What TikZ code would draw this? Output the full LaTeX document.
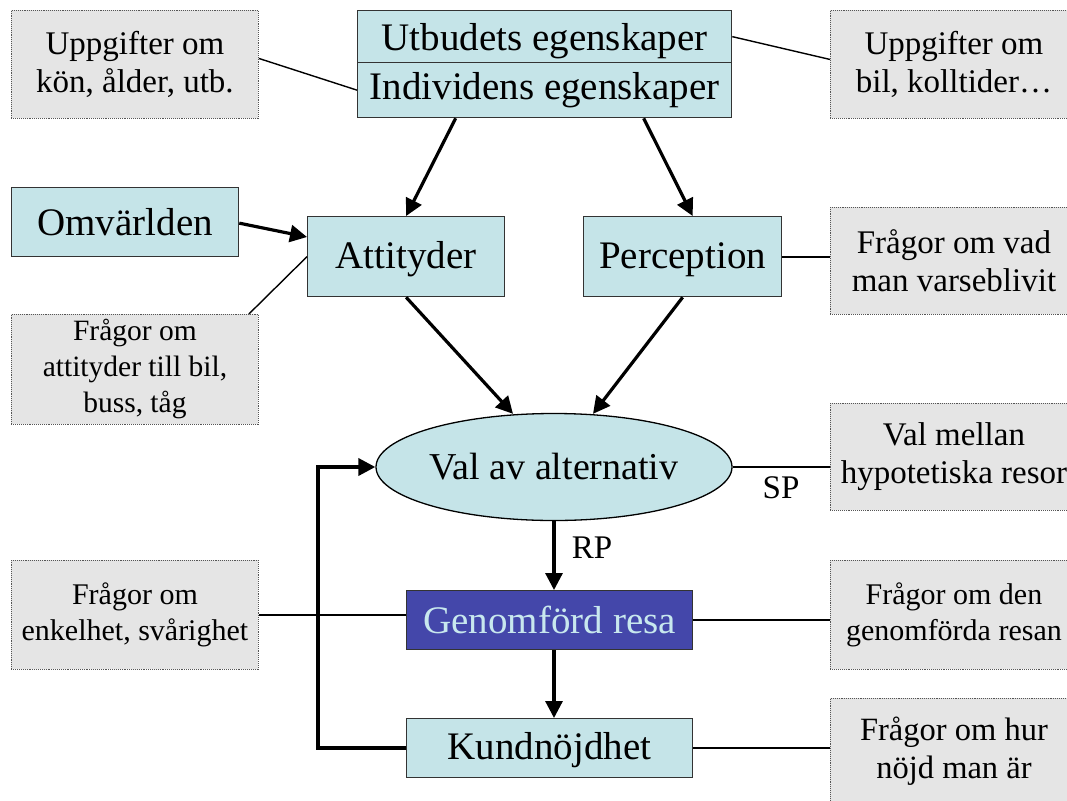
\documentclass[tikz,border=0pt]{standalone}
\usepackage{fontspec}
\setmainfont{Liberation Serif}
\usetikzlibrary{shapes.geometric,arrows.meta,calc}
\definecolor{boxfill}{HTML}{C5E4E8}
\definecolor{notefill}{HTML}{E5E5E5}
\definecolor{donefill}{HTML}{4447AA}
\definecolor{donetext}{HTML}{C8E8EE}
\definecolor{edge}{HTML}{333333}
\definecolor{noteedge}{HTML}{555555}
% lower a text inside its node without changing the node's size
\newcommand{\droptext}[2]{\vphantom{#2}\smash{\raisebox{-#1}{#2}}}

\begin{document}
\begin{tikzpicture}[x=1pt,y=-1pt,
  concept/.style={draw=edge, line width=1.3pt, fill=boxfill, anchor=north west,
    inner sep=0pt, font=\fontsize{39}{44}\selectfont},
  note/.style={draw=noteedge, densely dotted, line width=0.9pt, fill=notefill,
    anchor=north west, inner sep=0pt, align=center, minimum width=247pt},
  big/.style={font=\fontsize{33}{38}\selectfont},
  small/.style={font=\fontsize{30}{36}\selectfont},
  flow/.style={line width=3.2pt, -{Triangle[length=17pt,width=17pt]}},
  link/.style={line width=1.4pt},
  tag/.style={font=\fontsize{33}{38}\selectfont, inner sep=0pt},
]
\useasboundingbox (0,0) rectangle (1067,800);
\clip (0,0) rectangle (1067,800);

% central chain
\node[concept, minimum width=374pt, minimum height=52pt] (utbud) at (357,10) {\droptext{5pt}{Utbudets egenskaper}};
\node[concept, minimum width=374pt, minimum height=55pt] (indiv) at (357,62) {Individens egenskaper};
\node[concept, minimum width=227pt, minimum height=69pt] (omv) at (11,187) {Omvärlden};
\node[concept, minimum width=197pt, minimum height=80pt] (att) at (307,216) {\droptext{3pt}{Attityder}};
\node[concept, minimum width=198pt, minimum height=80pt] (perc) at (583,216) {\droptext{3pt}{Perception}};
\node[ellipse, draw=black, line width=1.3pt, fill=boxfill, inner sep=0pt,
  minimum width=356pt, minimum height=107pt, font=\fontsize{38}{44}\selectfont]
  (val) at (554,467) {Val av alternativ};
\node[concept, fill=donefill, text=donetext, minimum width=286pt, minimum height=59pt] (gen) at (406,590) {Genomförd resa};
\node[concept, minimum width=286pt, minimum height=59pt] (kund) at (406,718) {\droptext{2pt}{Kundnöjdhet}};

% question boxes
\node[note, big, minimum height=108pt] (nkon) at (11,10) {Uppgifter om\\kön, ålder, utb.};
\node[note, big, minimum height=108pt] (nbil) at (830,10) {Uppgifter om\\bil, kolltider…};
\node[note, font=\fontsize{29.5}{36}\selectfont, minimum height=110pt] (natt) at (11,314) {Frågor om\\attityder till bil,\\buss, tåg};
\node[note, big, minimum height=107pt] (nvad) at (830,207) {Frågor om vad\\man varseblivit};
\node[note, big, minimum height=107pt] (nval) at (830,403) {Val mellan\\hypotetiska resor};
\node[note, small, minimum height=109pt] (nenk) at (11,560) {Frågor om\\enkelhet, svårighet};
\node[note, small, minimum height=109pt] (nden) at (830,560) {Frågor om den\\genomförda resan};
\node[note, font=\fontsize{32.5}{38}\selectfont, minimum height=106pt] (nhur) at (830,698) {Frågor om hur\\nöjd man är};

% thin links to the question boxes
\draw[link] ($(nkon.east)+(0,-6)$) -- (indiv.west);
\draw[link] (utbud.east) -- ($(nbil.west)+(0,-5)$);
\draw[link] ($(natt.north east)+(-10,0)$) -- (att.west);
\draw[link, line width=2pt] (perc.east) -- (perc.east -| nvad.west);
\draw[link, line width=2pt] (val.east) -- (val.east -| nval.west);
\draw[link] (nenk.east) -- (nenk.east -| gen.west);
\draw[link] (gen.east) -- (gen.east -| nden.west);
\draw[link, line width=2.4pt] (kund.east) -- (kund.east -| nhur.west);

% arrows
\draw[flow] ($(indiv.south)+(-89,0)$) -- (att.north);
\draw[flow] ($(indiv.south)+(99,0)$) -- ($(perc.north)+(10,0)$);
\draw[flow] ($(omv.east)+(0,1)$) -- ($(att.north west)+(0,21)$);
\draw[flow] (att.south) -- ($(val.north)+(-41,1)$);
\draw[flow] (perc.south) -- ($(val.north)+(39,1)$);
\draw[flow] (val.south) -- (val.south |- gen.north);
\draw[flow] (val.south |- gen.south) -- (val.south |- kund.north);
\draw[flow, line width=3.6pt] (kund.west) -- ++(-88,0) |- (val.west);

% method labels
\node[tag] (sp) at (781,488) {SP};
\node[tag] (rp) at (592,548) {RP};
\end{tikzpicture}
\end{document}
